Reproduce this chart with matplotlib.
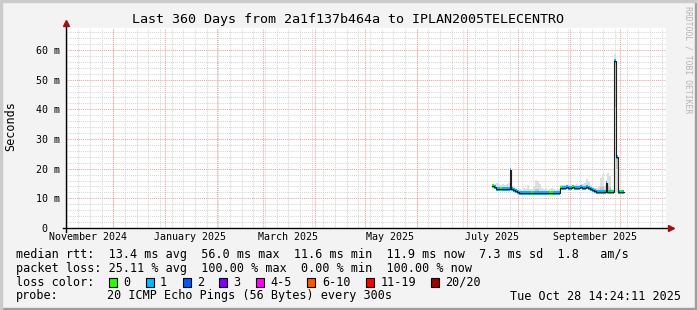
import numpy as np
import pandas as pd
import matplotlib
matplotlib.use("Agg")
import matplotlib.pyplot as plt
import matplotlib.dates as mdates
import matplotlib.transforms as mtrans
from matplotlib.patches import Rectangle
from matplotlib.lines import Line2D
from matplotlib.collections import LineCollection

# ---------------- data ----------------
title = "Last 360 Days from 2a1f137b464a to IPLAN2005TELECENTRO"
range_start = "2024-11-02 14:24:11"
range_end = "2025-10-28 14:24:11"
data_base = "2025-07-01 00:00:00"

# sample times (days after data_base)
days = [15.2, 16.4, 17.6, 18.8, 20.0, 21.2, 22.4, 23.6, 24.8, 25.9, 26.6, 27.8,
        29.0, 30.2, 31.4, 32.6, 33.9, 35.0, 36.2, 37.4, 38.6, 39.8, 41.0, 42.2,
        43.4, 44.6, 45.8, 47.0, 48.2, 49.4, 50.6, 51.8, 53.0, 54.2, 55.4, 56.3,
        57.2, 58.4, 59.6, 60.8, 62.0, 63.2, 64.4, 65.6, 66.8, 68.0, 69.2, 70.4,
        71.6, 72.8, 74.0, 75.2, 76.4, 77.6, 78.8, 80.0, 81.2, 82.4, 83.3, 83.9,
        84.5, 85.4, 86.6, 87.8, 88.6, 89.8, 91.0, 92.3, 93.2, 93.8]
# median rtt (ms)
median_ms = [14.0, 13.7, 13.3, 13.2, 13.2, 13.3, 13.2, 13.2, 13.3, 19.6, 13.2, 12.9,
             12.6, 12.1, 11.8, 11.8, 11.8, 11.7, 11.8, 11.7, 11.8, 11.7, 11.8, 11.8,
             11.7, 11.7, 11.8, 11.7, 11.8, 11.7, 11.8, 11.7, 11.8, 11.7, 11.8, 13.5,
             13.6, 13.6, 13.7, 13.6, 13.6, 13.7, 13.6, 13.6, 13.6, 13.7, 13.6, 13.6,
             13.7, 13.6, 13.3, 12.8, 12.4, 12.2, 12.2, 12.3, 12.2, 12.2, 12.3, 15.3,
             12.2, 12.2, 12.1, 12.1, 56.2, 24.0, 12.0, 12.0, 12.0, 12.0]
# lost pings out of 20
loss_cnt = [0, 1, 1, 1, 0, 1, 1, 1, 1, 1, 1, 1,
            1, 1, 1, 1, 1, 1, 1, 1, 0, 1, 1, 1,
            1, 1, 1, 1, 1, 0, 0, 1, 1, 1, 1, 0,
            1, 1, 1, 1, 1, 0, 1, 1, 1, 1, 1, 1,
            1, 1, 1, 1, 1, 1, 1, 1, 1, 1, 1, 1,
            0, 1, 0, 1, 1, 1, 1, 0, 1, 1]
# smoke envelope (ms)
smoke_lo = [13.6, 13.2, 12.9, 12.8, 12.8, 12.9, 12.8, 12.8, 12.9, 13.0, 12.8, 12.5,
            12.2, 11.7, 11.4, 11.4, 11.4, 11.3, 11.4, 11.3, 11.4, 11.3, 11.4, 11.4,
            11.3, 11.3, 11.4, 11.3, 11.4, 11.3, 11.4, 11.3, 11.4, 11.3, 11.4, 13.1,
            13.2, 13.2, 13.3, 13.2, 13.2, 13.3, 13.2, 13.2, 13.2, 13.3, 13.2, 13.2,
            13.3, 13.2, 12.9, 12.4, 12.0, 11.8, 11.8, 11.9, 11.8, 11.8, 11.9, 12.0,
            11.8, 11.8, 11.7, 11.7, 12.0, 12.0, 11.6, 11.6, 11.6, 11.6]
smoke_hi = [14.6, 15.0, 15.2, 14.8, 14.6, 14.9, 14.5, 14.8, 15.2, 19.8, 14.0, 13.8,
            13.4, 13.0, 13.2, 12.8, 13.5, 13.0, 14.5, 13.2, 13.0, 14.0, 16.3, 16.0,
            14.8, 13.5, 13.0, 13.6, 12.9, 13.2, 13.5, 13.0, 12.8, 13.3, 13.0, 14.5,
            14.4, 14.6, 14.3, 14.5, 14.8, 14.4, 14.5, 14.7, 14.4, 15.0, 14.8, 15.2,
            16.4, 15.8, 14.5, 14.0, 13.6, 13.5, 14.2, 17.0, 18.2, 14.0, 14.5, 15.8,
            18.6, 17.5, 13.2, 12.8, 58.5, 24.5, 12.6, 12.5, 12.6, 12.5]

y_ticks = [0, 10, 20, 30, 40, 50, 60]
label_months = ["2024-11", "2025-01", "2025-03", "2025-05", "2025-07", "2025-09"]

loss_levels = ["0", "1", "2", "3", "4-5", "6-10", "11-19", "20/20"]
loss_colors = ["#26ff00", "#00b8ff", "#0059ff", "#7e00ff", "#ff00ff",
               "#ff5500", "#ff0000", "#a00000"]

rtt_line = "median rtt:  13.4 ms avg  56.0 ms max  11.6 ms min  11.9 ms now  7.3 ms sd  1.8   am/s"
loss_line = "packet loss: 25.11 % avg  100.00 % max  0.00 % min  100.00 % now"
probe_label = "probe:"
probe_text = "20 ICMP Echo Pings (56 Bytes) every 300s"
stamp = "Tue Oct 28 14:24:11 2025"
watermark = "RRDTOOL / TOBI OETIKER"

# ---------------- figure ----------------
W, H = 697, 310
MONO = "DejaVu Sans Mono"
fig = plt.figure(figsize=(W / 100, H / 100), dpi=100, facecolor="#f3f3f3")


def fx(x):
    return x / W


def fy(y):
    return 1 - y / H


# 3D frame
fig.patches.append(Rectangle((0, 0), 1, 2 / H, transform=fig.transFigure, color="#9e9e9e", zorder=10))
fig.patches.append(Rectangle((1 - 2 / W, 0), 2 / W, 1, transform=fig.transFigure, color="#9e9e9e", zorder=10))
fig.patches.append(Rectangle((0, 1 - 2 / H), 1, 2 / H, transform=fig.transFigure, color="#cbcbcb", zorder=11))
fig.patches.append(Rectangle((0, 0), 2 / W, 1, transform=fig.transFigure, color="#cbcbcb", zorder=11))

ax = fig.add_axes([fx(66), fy(228), 600 / W, 200 / H])
ax.set_facecolor("white")
t0 = mdates.date2num(pd.Timestamp(range_start).to_pydatetime())
t1 = mdates.date2num(pd.Timestamp(range_end).to_pydatetime())
ax.set_xlim(t0, t1)
ax.set_ylim(0, 67.42)
for s in ax.spines.values():
    s.set_visible(False)

# grid
sundays = pd.date_range(pd.Timestamp(range_start).normalize(), range_end, freq="W-SUN")
months = pd.date_range(pd.Timestamp(range_start).normalize(), range_end, freq="MS")
dash = (0, (1, 1))
for d in sundays:
    ax.axvline(mdates.date2num(d.to_pydatetime()), color="#d6d6d6", lw=0.75, ls=dash, zorder=0.5)
for v in np.arange(2, 67.4, 2):
    if v % 10:
        ax.axhline(v, color="#d6d6d6", lw=0.75, ls=dash, zorder=0.5)
for d in months:
    ax.axvline(mdates.date2num(d.to_pydatetime()), color="#f2a0a0", lw=0.75, ls=dash, zorder=0.6)
for v in y_ticks[1:]:
    ax.axhline(v, color="#f2a0a0", lw=0.75, ls=dash, zorder=0.6)

# data
tt = pd.Timestamp(data_base) + pd.to_timedelta(np.array(days), unit="D")
x = mdates.date2num(tt.to_pydatetime())
med = np.array(median_ms)
loss = np.array(loss_cnt)
lo = np.array(smoke_lo)
hi = np.array(smoke_hi)

ax.fill_between(x, lo, hi, step="post", color="#dedede", lw=0, zorder=1)
mid_lo = med - 0.35 * (med - lo)
mid_hi = med + 0.3 * (hi - med)
ax.fill_between(x, mid_lo, mid_hi, step="post", color="#c4c4c4", lw=0, zorder=1.1)

# horizontal loss-coloured segments of the median
x_next = np.append(x[1:], x[-1] + (x[-1] - x[-2]))
bins = [(0, 0), (1, 1), (2, 2), (3, 3), (4, 5), (6, 10), (11, 19), (20, 20)]
for (a, b), c in zip(bins, loss_colors):
    m = (loss >= a) & (loss <= b)
    if not m.any():
        continue
    segs = [[(x[i], med[i]), (x_next[i], med[i])] for i in np.where(m)[0]]
    ax.add_collection(LineCollection(segs, colors=c, linewidths=2.9, capstyle="butt", zorder=2))
ax.plot(np.append(x, x_next[-1]), np.append(med, med[-1]), drawstyle="steps-post",
        color="#202020", lw=0.8, zorder=3)

# axes lines + arrows
ax.add_line(Line2D([-3 / 600, 1.003], [0, 0], transform=ax.transAxes, color="black", lw=1, clip_on=False, zorder=5))
ax.add_line(Line2D([0, 0], [-4 / 200, 1.01], transform=ax.transAxes, color="black", lw=1, clip_on=False, zorder=5))
ax.plot([1 + 5 / 600], [0], marker=">", ms=5, color="#a01010", transform=ax.transAxes, clip_on=False, zorder=6)
ax.plot([0], [1 + 5 / 200], marker="^", ms=5, color="#a01010", transform=ax.transAxes, clip_on=False, zorder=6)

# ticks
lab_pos = [mdates.date2num((pd.Timestamp(m + "-01") + pd.Timedelta(days=15)).to_pydatetime()) for m in label_months]
lab_txt = [pd.Timestamp(m + "-01").strftime("%B %Y") for m in label_months]
ax.set_xticks(lab_pos, lab_txt)
ax.set_yticks(y_ticks, [f"{v} m" if v else "0" for v in y_ticks])
ax.tick_params(axis="both", length=0, labelsize=7.2, colors="black")
ax.tick_params(axis="x", pad=3)
ax.tick_params(axis="y", pad=4.5)
for lab in ax.get_xticklabels() + ax.get_yticklabels():
    lab.set_family(MONO)
# the unit-less zero sits under the digits column
zero_lab = ax.yaxis.get_major_ticks()[0].label1
zero_lab.set_transform(zero_lab.get_transform() + mtrans.ScaledTranslation(-0.12, 0, fig.dpi_scale_trans))

# texts
fig.text(fx(348), fy(19), title, family=MONO, fontsize=9.6, ha="center", va="center")
fig.text(fx(11), fy(126), "Seconds", family=MONO, fontsize=8.5, rotation=90, ha="center", va="center")
fig.text(fx(688), fy(60), watermark, family=MONO, fontsize=5.9, rotation=270, ha="center", va="center", color="#b4b4b4")

fig.text(fx(16), fy(254.5), rtt_line, family=MONO, fontsize=8.5, ha="left", va="center")
fig.text(fx(16), fy(268.3), loss_line, family=MONO, fontsize=8.5, ha="left", va="center")
fig.text(fx(16), fy(282.3), "loss color:", family=MONO, fontsize=8.5, ha="left", va="center")
box_x = [109, 145.5, 182.5, 219, 256, 307.3, 365.7, 430.7]
for bx, lvl, c in zip(box_x, loss_levels, loss_colors):
    fig.patches.append(Rectangle((fx(bx), fy(287)), 8 / W, 9 / H, transform=fig.transFigure,
                                 facecolor=c, edgecolor="black", lw=0.8, zorder=5))
    fig.text(fx(bx + 14.5), fy(282.3), lvl, family=MONO, fontsize=8.5, ha="left", va="center")
fig.text(fx(16), fy(296), probe_label, family=MONO, fontsize=8.5, ha="left", va="center")
fig.text(fx(107.3), fy(296), probe_text, family=MONO, fontsize=8.5, ha="left", va="center")
fig.text(fx(681), fy(296), stamp, family=MONO, fontsize=8.5, ha="right", va="center")

fig.savefig("out.png", dpi=100, facecolor=fig.get_facecolor())
